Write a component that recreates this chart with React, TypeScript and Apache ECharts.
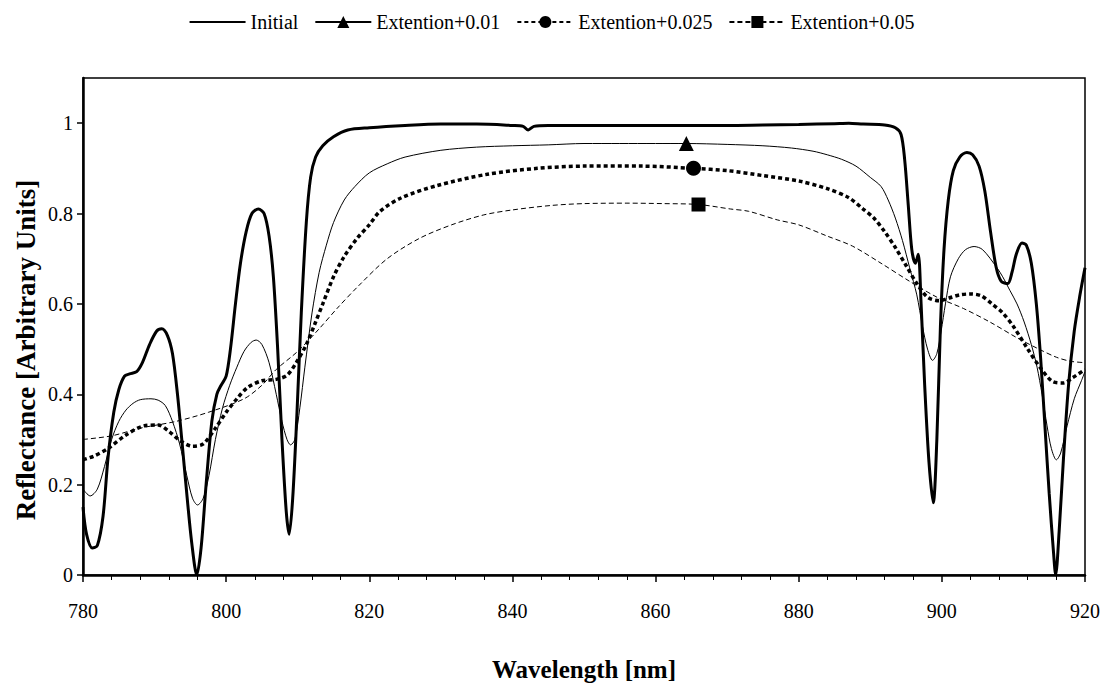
import React, { useEffect, useRef } from "react";
import * as echarts from "echarts";

const FONT = "Liberation Serif";

// Series names and axis titles
const seriesNames = ["Initial", "Extention+0.01", "Extention+0.025", "Extention+0.05"];
const xTitle = "Wavelength [nm]";
const yTitle = "Reflectance [Arbitrary Units]";

// Initial (thick solid)
const initialWl = [780,780.5,781.3,782,782.8,783.5,784.3,785,785.8,786.5,787.5,788.3,789.3,790.3,791,791.8,792.5,793.2,793.8,794.5,795.2,795.9,796.5,797.2,798,798.7,799.3,800,800.6,801.3,802,802.8,803.6,804.5,805.3,806,806.6,807.2,807.8,808.4,808.8,809.3,809.9,810.5,811.2,811.8,812.5,813.5,815,817,820,825,830,835,840,841.5,842.2,843,845,850,855,860,865,870,875,880,885,887,889,892,893.5,894.3,894.8,895.3,895.8,896.3,896.7,897.1,897.6,898.2,898.8,899.3,899.8,900.3,900.9,901.6,902.5,903.5,904.3,905.2,906,906.8,907.6,908.3,909.2,909.8,910.4,911.2,911.8,912.5,913.2,913.8,914.4,915,915.6,915.9,916.4,917,917.7,918.5,919.3,920];
const initialR = [0.15,0.09,0.06,0.065,0.13,0.26,0.36,0.41,0.44,0.445,0.45,0.47,0.51,0.54,0.545,0.53,0.49,0.40,0.30,0.18,0.07,0.0,0.06,0.2,0.34,0.40,0.42,0.44,0.50,0.60,0.69,0.76,0.80,0.81,0.80,0.75,0.66,0.50,0.30,0.14,0.09,0.17,0.36,0.58,0.78,0.88,0.925,0.95,0.97,0.985,0.99,0.995,0.998,0.998,0.995,0.993,0.985,0.993,0.995,0.995,0.995,0.995,0.995,0.995,0.996,0.997,0.999,1.0,0.998,0.996,0.99,0.975,0.92,0.82,0.72,0.69,0.71,0.60,0.42,0.25,0.16,0.30,0.55,0.72,0.83,0.895,0.925,0.935,0.93,0.905,0.85,0.76,0.68,0.65,0.645,0.67,0.71,0.735,0.73,0.69,0.60,0.48,0.33,0.18,0.05,0.0,0.10,0.26,0.42,0.54,0.62,0.68];

// Extention+0.01 (thin solid, triangle marker)
const ext01Wl = [780,781,782,783,784,785,786,787,788,789.5,790.5,791.5,792.5,793.5,794.5,795.3,796,796.8,797.6,798.5,799.5,800.5,801.5,802.5,803.5,804.2,805,806,807,807.8,808.5,809,809.6,810.3,811,812,813,814,815,816.5,818,820,822.5,825,830,835,840,845,850,855,860,864.3,870,875,879,882,884,886,888,890,891.5,892.5,893.5,894.5,895.5,896.5,897.3,898,898.7,899.3,899.9,900.5,901.2,902.3,903.3,904.5,905.7,907.7,908.5,909.5,910.5,911.5,912.5,913.3,914,914.7,915.3,916,916.6,917.5,918.5,919.5,920];
const ext01R = [0.19,0.175,0.19,0.24,0.30,0.34,0.365,0.38,0.388,0.39,0.387,0.375,0.34,0.29,0.22,0.17,0.155,0.17,0.22,0.30,0.37,0.42,0.46,0.495,0.515,0.52,0.51,0.47,0.40,0.34,0.30,0.288,0.30,0.37,0.46,0.58,0.67,0.73,0.78,0.83,0.86,0.89,0.91,0.925,0.94,0.947,0.95,0.952,0.955,0.955,0.955,0.955,0.953,0.95,0.945,0.938,0.93,0.92,0.905,0.88,0.86,0.83,0.79,0.74,0.68,0.62,0.55,0.50,0.475,0.49,0.54,0.60,0.66,0.70,0.72,0.727,0.72,0.68,0.66,0.63,0.60,0.56,0.51,0.46,0.40,0.33,0.28,0.255,0.27,0.33,0.39,0.43,0.45];
const ext01MarkerWl = 864.3;

// Extention+0.025 (heavy dotted, circle marker)
const ext025Wl = [780,781.5,783.5,786,788.5,790.5,792,793.5,795.3,796.8,798.5,800,801.5,803,805,807,808.5,809.8,811.2,812.5,813.5,815,816.5,818.3,820,821.5,824.5,829.5,836.5,843.5,850,858,865.3,870,875,880,884,887,889,890.5,892,893.5,895,896.5,898,899.7,901,902.5,904,905.5,907,908.5,910,912,913.7,915.5,917,918.3,920];
const ext025R = [0.255,0.263,0.28,0.31,0.33,0.332,0.318,0.298,0.285,0.29,0.325,0.36,0.39,0.415,0.43,0.433,0.442,0.47,0.51,0.56,0.60,0.66,0.705,0.745,0.775,0.805,0.835,0.862,0.887,0.9,0.905,0.905,0.90,0.895,0.884,0.872,0.855,0.835,0.81,0.79,0.76,0.725,0.685,0.645,0.615,0.607,0.613,0.62,0.622,0.618,0.60,0.58,0.55,0.50,0.46,0.428,0.425,0.437,0.455];
const ext025MarkerWl = 865.3;

// Extention+0.05 (thin dashed, square marker)
const ext05Wl = [780,784,788,793,797.5,802.5,805,807,810,813,815.5,818.5,822.5,827,831.5,836,840,845.5,850,856,861,866,870.5,873,877,880,884,887.5,891.5,895.5,899.3,903,906.7,910.5,913.3,916,918,920];
const ext05R = [0.30,0.308,0.325,0.34,0.36,0.39,0.42,0.455,0.495,0.545,0.59,0.64,0.70,0.745,0.775,0.797,0.808,0.818,0.822,0.823,0.822,0.82,0.81,0.805,0.786,0.775,0.75,0.728,0.69,0.65,0.615,0.59,0.56,0.525,0.502,0.482,0.473,0.47];
const ext05MarkerWl = 866;

function build(wl: number[], r: number[], markWl: number | null, size: number) {
  return wl.map((x, i) =>
    markWl !== null && x === markWl ? { value: [x, r[i]], symbolSize: size } : [x, r[i]]
  );
}

export default function App() {
  const ref = useRef<HTMLDivElement>(null);
  useEffect(() => {
    if (!ref.current) return;
    const chart = echarts.init(ref.current, undefined, { renderer: "svg" });
    const black = "#000";
    chart.setOption({
      animation: false,
      backgroundColor: "#fff",
      textStyle: { fontFamily: FONT },
      legend: {
        top: 7,
        left: "center",
        itemWidth: 56,
        itemHeight: 15,
        itemGap: 16,
        textStyle: { fontFamily: FONT, fontSize: 20, color: black },
        data: [
          { name: seriesNames[0], itemStyle: { color: "rgba(0,0,0,0)", borderWidth: 0 } },
          seriesNames[1],
          seriesNames[2],
          seriesNames[3],
        ],
      },
      graphic: [
        {
          type: "text",
          x: 26,
          y: 350,
          rotation: Math.PI / 2,
          style: {
            text: yTitle,
            fontFamily: FONT,
            fontSize: 27,
            fontWeight: "bold",
            fill: black,
            textAlign: "center",
            textVerticalAlign: "middle",
          },
        },
      ],
      grid: {
        left: 83,
        right: 18,
        top: 78,
        bottom: 104,
        show: true,
        borderColor: black,
        borderWidth: 1.5,
        backgroundColor: "transparent",
      },
      xAxis: {
        type: "value",
        min: 780,
        max: 920,
        interval: 20,
        name: xTitle,
        nameLocation: "middle",
        nameGap: 82,
        nameTextStyle: { fontFamily: FONT, fontSize: 25, fontWeight: "bold", color: black },
        axisLine: { show: true, lineStyle: { color: black, width: 2.5 } },
        axisTick: { show: true, length: 7, lineStyle: { color: black, width: 1.5 } },
        minorTick: { show: true, splitNumber: 5, length: 5, lineStyle: { color: black, width: 1 } },
        splitLine: { show: false },
        axisLabel: { fontFamily: FONT, fontSize: 20, color: black, margin: 26 },
      },
      yAxis: {
        type: "value",
        min: 0,
        max: 1.1,
        interval: 0.2,
        axisLine: { show: true, lineStyle: { color: black, width: 2.5 } },
        axisTick: { show: true, length: 6, lineStyle: { color: black, width: 1.5 } },
        splitLine: { show: false },
        axisLabel: {
          fontFamily: FONT,
          fontSize: 20,
          color: black,
          margin: 10,
          showMaxLabel: false,
          formatter: (v: number) => (v > 1.05 ? "" : String(Number(v.toFixed(1)))),
        },
      },
      series: [
        {
          name: seriesNames[0],
          type: "line",
          data: build(initialWl, initialR, null, 0),
          symbol: "none",
          smooth: 0.3,
          z: 5,
          lineStyle: { color: black, width: 3 },
          itemStyle: { color: black },
        },
        {
          name: seriesNames[1],
          type: "line",
          data: build(ext01Wl, ext01R, ext01MarkerWl, 15),
          symbol: "triangle",
          symbolSize: 0,
          smooth: 0.3,
          lineStyle: { color: black, width: 1 },
          itemStyle: { color: black },
        },
        {
          name: seriesNames[2],
          type: "line",
          data: build(ext025Wl, ext025R, ext025MarkerWl, 15),
          symbol: "circle",
          symbolSize: 0,
          smooth: 0.3,
          lineStyle: { color: black, width: 3.5, type: [4, 3] },
          itemStyle: { color: black },
        },
        {
          name: seriesNames[3],
          type: "line",
          data: build(ext05Wl, ext05R, ext05MarkerWl, 14),
          symbol: "rect",
          symbolSize: 0,
          smooth: 0.3,
          lineStyle: { color: black, width: 1, type: [5, 3] },
          itemStyle: { color: black },
        },
      ],
    });
    return () => chart.dispose();
  }, []);
  return (
    <div
      ref={ref}
      style={{ position: "absolute", left: 0, top: 0, width: 1103, height: 687, background: "#fff" }}
    />
  );
}
